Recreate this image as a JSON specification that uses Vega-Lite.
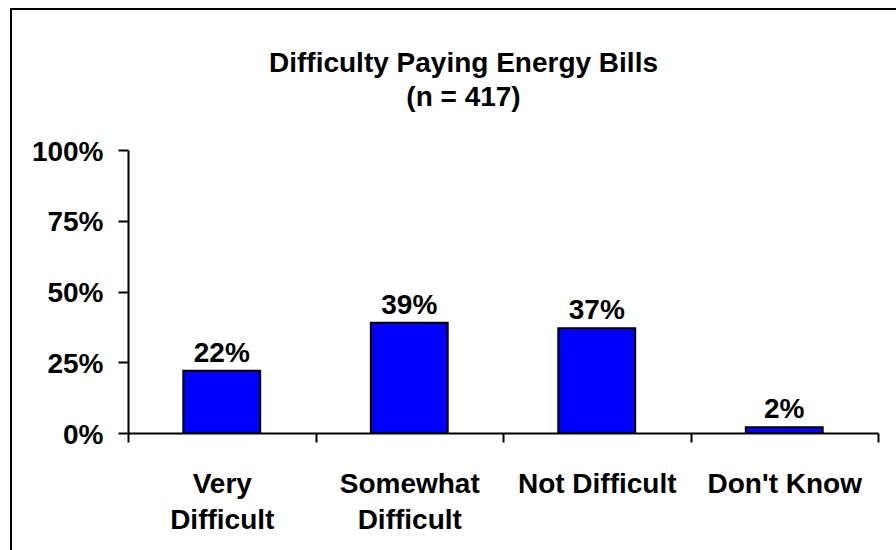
{
  "$schema": "https://vega.github.io/schema/vega-lite/v6.json",
  "width": 895,
  "height": 551,
  "autosize": {"type": "none"},
  "padding": {"left": 11, "top": 9, "right": -10, "bottom": -10},
  "background": "white",
  "title": {
    "text": ["Difficulty Paying Energy Bills", "(n = 417)"],
    "font": "Liberation Sans",
    "fontSize": 28,
    "fontWeight": "bold",
    "color": "black",
    "anchor": "middle",
    "frame": "group",
    "orient": "top",
    "baseline": "alphabetic",
    "lineHeight": 34,
    "offset": -125,
    "dx": 5
  },
  "data": {
    "values": [
      {"response": "Very Difficult", "share": 0.22},
      {"response": "Somewhat Difficult", "share": 0.39},
      {"response": "Not Difficult", "share": 0.37},
      {"response": "Don't Know", "share": 0.02}
    ]
  },
  "encoding": {
    "x": {
      "field": "response",
      "type": "nominal",
      "sort": null,
      "scale": {"range": [117, 867], "paddingInner": 0, "paddingOuter": 0},
      "axis": {
        "title": null,
        "orient": "bottom",
        "offset": -127,
        "tickBand": "extent",
        "tickSize": 9,
        "tickWidth": 2,
        "tickColor": "black",
        "domainColor": "black",
        "domainWidth": 2,
        "labelAngle": 0,
        "labelFont": "Liberation Sans",
        "labelFontSize": 28,
        "labelFontWeight": "bold",
        "labelColor": "black",
        "labelPadding": 28,
        "labelLineHeight": 36,
        "labelBaseline": "top",
        "labelLimit": 400,
        "labelOverlap": false,
        "labelExpr": "indexof(['Very Difficult', 'Somewhat Difficult'], datum.label) >= 0 ? split(datum.label, ' ') : datum.label"
      }
    },
    "y": {
      "field": "share",
      "type": "quantitative",
      "scale": {"domain": [0, 1], "range": [424, 141], "nice": false, "zero": true},
      "axis": {
        "title": null,
        "orient": "left",
        "offset": -117,
        "values": [0, 0.25, 0.5, 0.75, 1],
        "format": ".0%",
        "grid": false,
        "tickSize": 10,
        "tickWidth": 2,
        "tickColor": "black",
        "domainColor": "black",
        "domainWidth": 2,
        "labelFont": "Liberation Sans",
        "labelFontSize": 28,
        "labelFontWeight": "bold",
        "labelColor": "black",
        "labelPadding": 15,
        "labelOffset": 2
      }
    }
  },
  "layer": [
    {
      "mark": {"type": "bar", "width": {"band": 0.41}, "fill": "#0000FF", "stroke": "black", "strokeWidth": 2}
    },
    {
      "mark": {
        "type": "text",
        "font": "Liberation Sans",
        "fontSize": 28,
        "fontWeight": "bold",
        "color": "black",
        "baseline": "alphabetic",
        "dy": -9
      },
      "encoding": {
        "text": {"field": "share", "type": "quantitative", "format": ".0%"}
      }
    }
  ],
  "config": {
    "view": {"stroke": "black", "strokeWidth": 2, "fill": "white"},
    "axis": {"grid": false}
  }
}
